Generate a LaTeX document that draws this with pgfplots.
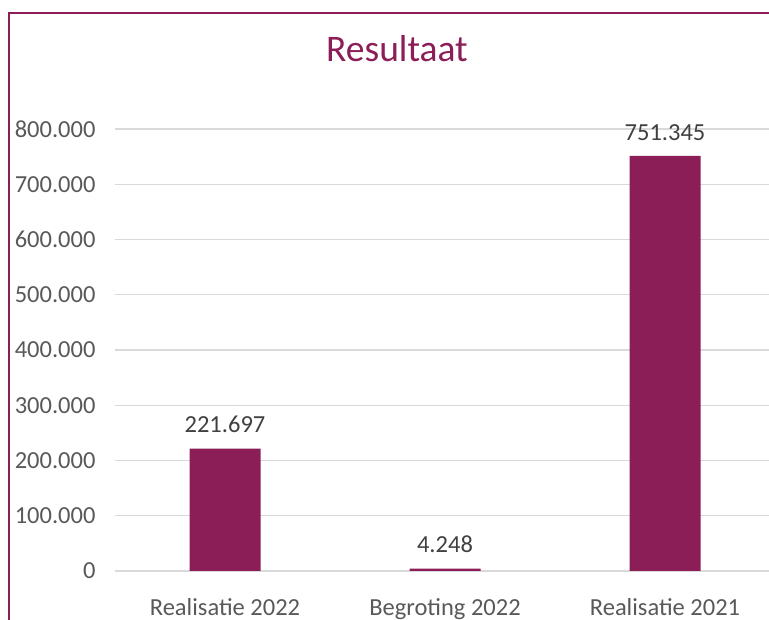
\documentclass[border=0pt]{standalone}
\usepackage{pgfplots}
\pgfplotsset{compat=1.18}
\usepackage{fontspec}
\setmainfont{Carlito}
\definecolor{barpurple}{RGB}{139,30,87}
\definecolor{tickgray}{RGB}{89,89,89}
\definecolor{labelgray}{RGB}{64,64,64}
\definecolor{gridgray}{RGB}{217,217,217}
\begin{document}
\begin{tikzpicture}[x=1pt,y=1pt]
\useasboundingbox (0,0) rectangle (769,620);
\clip (0,0) rectangle (769,620);
% frame of the chart area (cut off on the right and at the bottom)
\draw[barpurple, line width=1.5pt] (9,-20) -- (9,607) -- (800,607);
\node[anchor=base, text=barpurple, font=\fontsize{37.5}{42}\selectfont] at (397,558) {Resultaat};
\begin{axis}[
    at={(115pt,49pt)}, anchor=south west,
    scale only axis,
    width=660pt, height=442pt,
    xmin=-0.5, xmax=2.5,
    ymin=0, ymax=800000,
    xtick={0,1,2},
    xticklabels={Realisatie 2022, Begroting 2022, Realisatie 2021},
    ytick={0,100000,200000,300000,400000,500000,600000,700000,800000},
    yticklabels={0,100.000,200.000,300.000,400.000,500.000,600.000,700.000,800.000},
    scaled y ticks=false,
    yticklabel style={font=\fontsize{24.5}{28}\selectfont, text=tickgray, xshift=-16pt},
    xticklabel style={font=\fontsize{24.5}{28}\selectfont, text=tickgray, yshift=-24pt},
    major tick length=0pt,
    axis line style={draw=none},
    ymajorgrids,
    grid style={gridgray, line width=1.3pt},
    nodes near coords,
    point meta=explicit symbolic,
    every node near coord/.append style={font=\fontsize{24.5}{28}\selectfont, text=labelgray, yshift=12pt},
]
\addplot[ybar, bar width=71pt, fill=barpurple, draw=none] coordinates {
    (0,221697) [221.697]
    (1,4248)   [4.248]
    (2,751345) [751.345]
};
\end{axis}
\end{tikzpicture}
\end{document}
